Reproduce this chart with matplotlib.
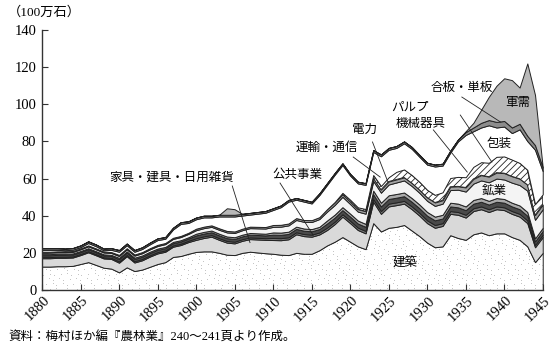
import matplotlib
matplotlib.use("Agg")
import matplotlib.pyplot as plt
import matplotlib.transforms as mtransforms
import numpy as np

plt.rcParams['font.family'] = ['Liberation Serif', 'Noto Sans CJK JP']
plt.rcParams['hatch.linewidth'] = 0.6

# -------- DATA (100万石) --------
years = list(range(1880, 1946))

kenchiku = [12.6, 12.6, 12.8, 12.8, 13.0, 14.0, 15.0, 13.5, 12.0, 11.5,
            9.5, 12.2, 10.2, 11.0, 12.5, 14.0, 15.0, 17.8, 18.3, 19.5,
            20.5, 20.8, 20.8, 20.0, 19.0, 18.8, 20.0, 20.6, 20.2, 19.8,
            19.5, 19.0, 18.8, 20.0, 19.5, 19.5, 21.4, 24.0, 26.0, 28.5,
            26.0, 23.5, 22.0, 36.0, 31.5, 33.5, 34.0, 35.0, 32.0, 29.0,
            25.5, 23.0, 23.5, 29.5, 28.0, 27.0, 30.0, 31.0, 29.5, 30.5,
            30.5, 28.5, 27.0, 23.5, 15.0, 20.0]
kagu = [4.5, 4.5, 4.5, 4.5, 4.5, 4.8, 5.3, 5.2, 5.0, 5.2,
        5.2, 6.0, 4.6, 5.0, 5.5, 5.7, 5.6, 5.5, 5.9, 6.3,
        6.5, 7.2, 7.9, 7.0, 6.5, 6.3, 6.5, 6.8, 7.0, 7.2,
        7.4, 7.8, 8.5, 10.0, 9.5, 9.2, 8.5, 8.3, 9.5, 11.0,
        10.0, 8.8, 8.5, 11.5, 9.5, 11.5, 11.7, 11.5, 11.5, 11.0,
        10.5, 10.5, 11.0, 11.5, 12.5, 12.0, 12.5, 12.5, 12.5, 13.0,
        12.5, 12.5, 12.5, 12.5, 8.0, 8.5]
koukyou = [0.6, 0.6, 0.6, 0.6, 0.6, 0.6, 0.6, 0.6, 0.6, 0.6,
           0.7, 0.7, 0.7, 0.7, 0.7, 0.7, 0.7, 0.7, 0.7, 0.7,
           0.9, 0.9, 0.9, 0.9, 0.9, 0.9, 0.9, 0.9, 0.9, 0.9,
           1.1, 1.1, 1.1, 1.1, 1.1, 1.1, 1.1, 1.3, 1.3, 1.3,
           1.3, 1.3, 1.3, 1.5, 1.5, 1.5, 1.5, 1.5, 1.5, 1.5,
           1.5, 1.5, 1.5, 1.5, 1.5, 1.5, 1.5, 1.5, 1.5, 1.5,
           1.5, 1.5, 1.5, 1.5, 1.2, 1.3]
unyu = [1.0, 1.0, 1.0, 1.0, 1.0, 1.0, 1.0, 1.0, 1.0, 1.0,
        1.2, 1.2, 1.2, 1.2, 1.2, 1.2, 1.2, 1.2, 1.2, 1.2,
        1.5, 1.5, 1.5, 1.5, 1.5, 1.5, 1.5, 1.5, 1.5, 1.5,
        1.8, 1.8, 1.8, 1.8, 1.8, 1.8, 1.8, 2.2, 2.2, 2.2,
        2.2, 2.2, 2.2, 2.5, 2.5, 2.5, 2.5, 2.5, 2.5, 2.5,
        2.5, 2.5, 2.5, 2.5, 2.5, 2.5, 2.5, 2.5, 2.5, 2.5,
        2.5, 2.5, 2.5, 2.5, 2.0, 2.0]
denryoku = [0.6, 0.6, 0.6, 0.6, 0.6, 0.6, 0.6, 0.6, 0.6, 0.6,
            0.7, 0.7, 0.7, 0.7, 0.7, 0.7, 0.7, 0.7, 0.7, 0.7,
            0.9, 0.9, 0.9, 0.9, 0.9, 0.9, 0.9, 0.9, 0.9, 0.9,
            1.2, 1.2, 1.2, 1.2, 1.2, 1.2, 1.2, 1.6, 1.6, 1.6,
            1.6, 1.6, 1.6, 2.0, 2.0, 2.0, 2.0, 2.0, 2.0, 2.0,
            2.0, 2.0, 2.0, 2.0, 2.0, 2.0, 2.0, 2.0, 2.0, 2.0,
            2.0, 2.0, 2.0, 2.0, 1.6, 1.7]
kougyou = [0.8, 0.8, 0.8, 0.8, 0.8, 0.9, 1.0, 1.0, 1.0, 1.0,
           1.0, 1.1, 1.1, 1.2, 1.3, 1.4, 1.5, 1.6, 1.7, 1.8,
           1.9, 2.0, 2.0, 2.1, 2.2, 2.3, 2.4, 2.6, 2.7, 2.8,
           3.0, 3.2, 3.4, 3.6, 3.6, 3.8, 4.2, 4.8, 5.2, 5.6,
           5.2, 4.8, 5.5, 5.2, 5.4, 5.8, 6.2, 6.5, 6.5, 6.3,
           6.0, 5.8, 6.0, 6.8, 7.5, 8.0, 8.8, 9.5, 10.0, 10.5,
           10.5, 10.8, 11.0, 11.5, 10.0, 10.0]
kikai = [0.5, 0.5, 0.5, 0.5, 0.5, 0.5, 0.5, 0.5, 0.5, 0.5,
         0.6, 0.6, 0.6, 0.6, 0.6, 0.6, 0.6, 0.6, 0.6, 0.6,
         0.8, 0.8, 0.8, 0.8, 0.8, 0.8, 0.8, 0.8, 0.8, 0.8,
         1.0, 1.0, 1.0, 1.0, 1.0, 1.0, 1.0, 1.3, 1.3, 1.3,
         1.3, 1.3, 1.3, 1.6, 1.6, 1.6, 1.6, 1.6, 1.6, 1.6,
         1.8, 1.8, 1.8, 1.8, 1.8, 2.2, 2.5, 2.8, 3.0, 3.2,
         3.4, 3.4, 3.4, 3.2, 2.5, 2.5]
pulp = [0, 0, 0, 0, 0, 0, 0, 0, 0, 0,
        0, 0, 0, 0, 0, 0, 0, 0, 0, 0,
        0, 0, 0, 0, 0, 0, 0, 0, 0, 0,
        0, 0, 0, 0, 0, 0, 0, 0, 0.3, 0.8,
        1.0, 1.0, 1.2, 1.6, 2.0, 2.3, 4.1, 4.3, 4.3, 4.3,
        4.1, 4.1, 4.3, 4.7, 5.1, 5.5, 6.5, 7.0, 7.5, 8.5,
        9.0, 9.0, 8.5, 8.0, 6.0, 5.5]
housou = [1.0, 1.0, 0.8, 0.6, 0.7, 0.7, 1.3, 1.2, 0.7, 1.2,
          1.7, 1.6, 1.5, 1.7, 2.1, 2.6, 2.3, 4.5, 6.5, 5.3,
          5.1, 5.0, 4.3, 6.4, 7.8, 8.1, 7.1, 6.5, 7.1, 7.7,
          8.1, 9.5, 11.8, 9.9, 9.9, 9.0, 11.9, 13.1, 14.7, 15.0,
          13.0, 12.9, 13.0, 12.4, 16.0, 14.8, 12.9, 14.1, 14.1, 13.5,
          13.6, 15.3, 14.4, 13.7, 19.1, 22.8, 19.2, 18.7, 20.2, 15.8,
          16.1, 14.3, 18.1, 15.5, 29.2, 12.5]
goban = [0.9, 0.9, 0.9, 0.9, 0.9, 0.9, 0.9, 0.9, 0.9, 0.9,
         0.9, 0.9, 0.9, 0.9, 0.9, 0.9, 0.9, 0.9, 0.9, 0.9,
         0.9, 0.9, 0.9, 0.9, 0.9, 0.9, 0.9, 0.9, 0.9, 0.9,
         0.9, 0.9, 0.9, 0.9, 0.9, 0.9, 0.9, 0.9, 0.9, 0.9,
         0.9, 0.9, 0.9, 1.0, 1.0, 1.0, 1.0, 1.0, 1.0, 1.0,
         1.0, 1.0, 1.0, 1.0, 1.0, 1.5, 2.0, 2.5, 2.8, 3.0,
         3.0, 3.0, 3.0, 2.8, 2.5, 2.0]
gunju = [0, 0, 0, 0, 0, 0, 0, 0, 0, 0,
         0, 0, 0, 0, 0, 0, 0, 0, 0, 0,
         0, 0, 0, 0, 3.5, 3.0, 0, 0, 0, 0,
         0, 0, 0, 0, 0, 0, 0, 0, 0, 0,
         0, 0, 0, 0, 0, 0, 0, 0, 0, 0,
         0, 0, 0, 0, 0, 0.5, 2.5, 7.0, 12.5, 19.5,
         23.0, 25.5, 19.5, 39.0, 27.0, 0.0]

xtick_years = list(range(1880, 1946, 5))

layers = [kenchiku, kagu, koukyou, unyu, denryoku, kougyou, kikai, pulp, housou, goban, gunju]
faces = ['white', '#d9d9d9', '#757575', '#4a4a4a', '#ababab', '#f4f4f4',
         '#a3a3a3', 'white', 'white', '#8c8c8c', '#b8b8b8']
hatches = [None, None, None, None, None, None, None, '/////', None, None, None]

fig = plt.figure(figsize=(5.52, 3.57), dpi=100)
ax = fig.add_axes([0.0761, 0.1877, 0.9071, 0.7283])

polys = ax.stackplot(years, layers, colors=faces, edgecolor='#222222', linewidth=0.7)
for p, h in zip(polys, hatches):
    if h:
        p.set_hatch(h)

# stipple texture for 建築 (a staggered grid of fine dots, clipped to the band)
gx, gy = np.meshgrid(np.arange(0.004, 1.0, 0.011), np.arange(0.004, 0.3, 0.019))
shift = (np.arange(gx.shape[0]) % 3)[:, None] * 0.0037
wob = ((np.arange(gx.size).reshape(gx.shape) * 7) % 5 - 2) * 0.0012
dots = ax.scatter((gx + shift + wob).ravel(), (gy + wob * 2).ravel(), s=0.5,
                  color='#555555', marker='.', linewidths=0, transform=ax.transAxes, zorder=3)
dots.set_clip_path(polys[0].get_paths()[0], ax.transData)

ax.set_xlim(1880, 1945)
ax.set_ylim(0, 140)
ax.set_xticks(xtick_years)
ax.set_xticklabels([])
ax.set_yticks(range(0, 141, 20))
ax.spines['top'].set_visible(False)
ax.spines['right'].set_visible(False)
for s in ['left', 'bottom']:
    ax.spines[s].set_color('#333333')
    ax.spines[s].set_linewidth(1.0)
ax.tick_params(direction='in', length=4, width=0.8, color='#333333',
               labelsize=10.5, pad=4)

# rotated year labels under the ticks (single font family, no fallback)
xlab_tr = mtransforms.offset_copy(ax.get_xaxis_transform(), fig=fig,
                                  x=4.0, y=-6.0, units='points')
for yr in xtick_years:
    ax.text(yr, 0, str(yr), transform=xlab_tr, rotation=45, rotation_mode='anchor',
            ha='right', va='center', fontsize=10.5, family='Liberation Serif',
            clip_on=False)

fig.text(0.015, 0.965, '（100万石）', fontsize=9.5, va='center', ha='left')

# labels with leader lines
lab_kw = dict(fontsize=9, ha='center', va='center')
ax.text(1896.9, 60.3, '家具・建具・日用雑貨', **lab_kw)
ax.text(1913.2, 61.9, '公共事業', **lab_kw)
ax.text(1917.0, 76.5, '運輸・通信', **lab_kw)
ax.text(1921.8, 86.2, '電力', **lab_kw)
ax.text(1929.1, 89.4, '機械器具', **lab_kw)
ax.text(1927.8, 98.0, 'パルプ', **lab_kw)
ax.text(1934.5, 108.8, '合板・単板', **lab_kw)
ax.text(1941.7, 100.7, '軍需', **lab_kw)
ax.text(1939.4, 78.6, '包装', **lab_kw)
ax.text(1938.7, 53.3, '鉱業', **lab_kw)
ax.text(1927.1, 14.5, '建築', zorder=4, **lab_kw)

line_kw = dict(color='#222222', linewidth=0.6)
ax.plot([1904.7, 1907.0], [56.0, 25.5], **line_kw)
ax.plot([1910.9, 1915.2], [57.6, 29.5], **line_kw)
ax.plot([1920.4, 1923.9], [71.6, 60.8], **line_kw)
ax.plot([1922.9, 1924.9], [79.7, 58.2], **line_kw)
ax.plot([1930.8, 1935.2], [86.2, 63.5], **line_kw)
ax.plot([1934.3, 1938.4], [94.2, 68.9], **line_kw)
ax.plot([1934.5, 1939.5], [103.9, 90.5], **line_kw)

fig.text(0.015, 0.053, '資料：梅村ほか編『農林業』240～241頁より作成。',
         fontsize=9, va='center', ha='left')

fig.savefig('out.png', dpi=100)
